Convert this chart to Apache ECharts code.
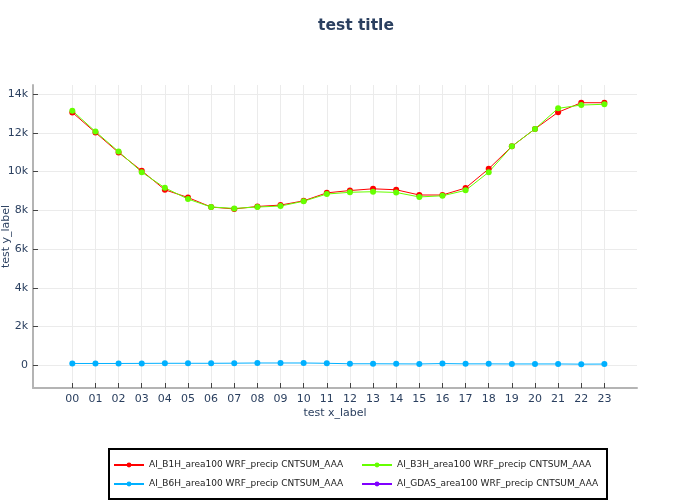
<!DOCTYPE html>
<html>
<head>
<meta charset="utf-8">
<script src="https://cdn.jsdelivr.net/npm/echarts@6/dist/echarts.min.js"></script>
<style>html,body{margin:0;padding:0;background:#fff;}#c{width:700px;height:500px;}</style>
</head>
<body>
<div id="c"></div>
<script>
var hours = ['00','01','02','03','04','05','06','07','08','09','10','11','12','13','14','15','16','17','18','19','20','21','22','23'];
var yTicks = [0, 2000, 4000, 6000, 8000, 10000, 12000, 14000];
var seriesNames = ['AI_B1H_area100 WRF_precip CNTSUM_AAA','AI_B3H_area100 WRF_precip CNTSUM_AAA','AI_B6H_area100 WRF_precip CNTSUM_AAA','AI_GDAS_area100 WRF_precip CNTSUM_AAA'];
var b1h = [13050, 12010, 10980, 10040, 9060, 8660, 8170, 8070, 8200, 8270, 8490, 8900, 9020, 9110, 9060, 8790, 8790, 9150, 10140, 11300, 12200, 13060, 13550, 13550];
var b3h = [13140, 12060, 11030, 9970, 9160, 8580, 8170, 8100, 8170, 8220, 8470, 8840, 8930, 8960, 8920, 8690, 8750, 9030, 9970, 11300, 12200, 13260, 13430, 13470];
var b6h = [100, 100, 100, 105, 110, 110, 110, 115, 125, 125, 125, 110, 85, 85, 80, 75, 95, 80, 80, 75, 75, 75, 65, 70];
var gdas = [];
var colors = ['#ff0000', '#66ff00', '#00b0ff', '#8000ff'];

function pairs(arr){ return arr.map(function(v,i){ return [i, v]; }); }
var xIdx = hours.map(function(h,i){ return i; });
var txt = '#2a3f5f';
var font = 'DejaVu Sans';

var chart = echarts.init(document.getElementById('c'));
var datasets = [b1h, b3h, b6h, gdas];
chart.setOption({
  animation: false,
  backgroundColor: '#fff',
  color: colors,
  title: {
    text: 'test title', left: 313, top: 13,
    textStyle: { fontFamily: font, fontSize: 15.5, fontWeight: 'bold', color: txt }
  },
  grid: { left: 33, right: 63, top: 85, bottom: 112, containLabel: false, outerBoundsMode: 'none' },
  xAxis: {
    type: 'value', min: -1.70, max: 24.41,
    name: 'test x_label', nameLocation: 'middle', nameGap: 20, nameMoveOverlap: false,
    nameTextStyle: { fontFamily: font, fontSize: 11, color: txt },
    axisLine: { show: true, onZero: false, lineStyle: { color: '#b4b4b4', width: 2 } },
    axisTick: { show: true, inside: true, length: 5, customValues: xIdx, lineStyle: { color: '#444', width: 1 } },
    axisLabel: { customValues: xIdx, margin: 6, fontFamily: font, fontSize: 11, color: txt,
      formatter: function(v){ return hours[Math.round(v)] || ''; } },
    splitLine: { show: true, lineStyle: { color: '#ebebeb', width: 1 } }
  },
  yAxis: {
    type: 'value', min: -1165, max: 14464,
    name: 'test y_label', nameLocation: 'middle', nameGap: 21, nameMoveOverlap: false,
    nameTextStyle: { fontFamily: font, fontSize: 11, color: txt },
    axisLine: { show: true, onZero: false, lineStyle: { color: '#b4b4b4', width: 2 } },
    axisTick: { show: true, inside: true, length: 5, customValues: yTicks, lineStyle: { color: '#444', width: 1 } },
    axisLabel: { customValues: yTicks, margin: 5, fontFamily: font, fontSize: 11, color: txt,
      formatter: function(v){ return v === 0 ? '0' : (v/1000) + 'k'; } },
    splitLine: { show: true, lineStyle: { color: '#ebebeb', width: 1 } }
  },
  legend: {
    left: 109, top: 449,
    orient: 'horizontal', width: 490,
    padding: [10, 5, 9, 4],
    borderColor: '#000', borderWidth: 2,
    itemWidth: 30, itemHeight: 6, itemGap: 7,
    textStyle: { fontFamily: font, fontSize: 9, color: '#222', width: 205, lineHeight: 12 },
    data: seriesNames
  },
  series: datasets.map(function(d, k){
    return {
      name: seriesNames[k], type: 'line', data: pairs(d),
      symbol: 'circle', symbolSize: 6, showSymbol: true,
      lineStyle: { width: 1, color: colors[k] },
      itemStyle: { color: colors[k] }
    };
  })
});
</script>
</body>
</html>
